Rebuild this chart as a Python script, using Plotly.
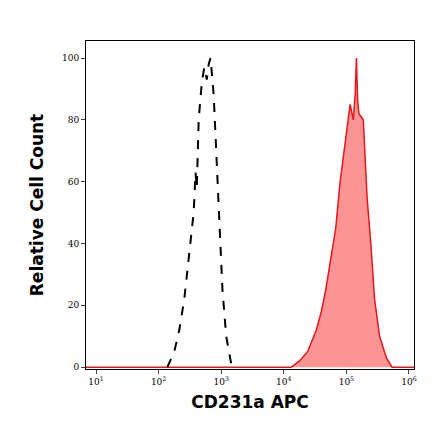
import plotly.graph_objects as go

# Isotype control (dashed), log10 of fluorescence vs count
iso_log = [2.14, 2.25, 2.33, 2.41, 2.48, 2.56, 2.59, 2.61, 2.64, 2.69, 2.73, 2.77, 2.80, 2.83,
           2.88, 2.92, 2.97, 3.02, 3.08, 3.16]
iso_cnt = [0, 5, 12, 22, 35, 50, 63, 58, 80, 92, 97, 93, 98, 100,
           88, 70, 45, 25, 10, 1]

# CD231a APC stained (red filled)
stain_log = [0.8, 4.05, 4.12, 4.25, 4.38, 4.52, 4.60, 4.67, 4.75, 4.83, 4.90, 4.95, 5.00, 5.06, 5.11,
             5.14, 5.16, 5.18, 5.20, 5.27, 5.33, 5.39, 5.45, 5.53, 5.64, 5.73, 6.1]
stain_cnt = [0, 0, 0, 2, 5, 12, 18, 25, 35, 45, 60, 68, 75, 85, 80,
             88, 100, 86, 82, 80, 55, 40, 22, 10, 3, 0, 0]

tick_exp = [1, 2, 3, 4, 5, 6]

fig = go.Figure()
fig.add_trace(go.Scatter(x=[10 ** v for v in stain_log], y=stain_cnt, mode="lines",
                         line=dict(color="#e8161b", width=1.5), fill="tozeroy",
                         fillcolor="rgba(250,130,130,0.85)"))
fig.add_trace(go.Scatter(x=[10 ** v for v in iso_log], y=iso_cnt, mode="lines",
                         line=dict(color="black", width=2, dash="dash")))

fig.update_layout(
    width=440, height=441, showlegend=False,
    plot_bgcolor="white", paper_bgcolor="white",
    margin=dict(l=78, r=34, t=33, b=80),
    font=dict(family="DejaVu Serif", size=9, color="black"),
)
fig.update_xaxes(type="log", range=[0.84, 6.08],
                 tickvals=[10 ** e for e in tick_exp],
                 ticktext=["10<sup>%d</sup>" % e for e in tick_exp],
                 ticks="outside", ticklen=4, showline=True, linecolor="black", mirror=True,
                 showgrid=False, zeroline=False,
                 title=dict(text="<b>CD231a APC</b>", font=dict(family="DejaVu Sans", size=17), standoff=10))
fig.update_yaxes(range=[-0.6, 105.5], tickvals=[0, 20, 40, 60, 80, 100],
                 ticks="outside", ticklen=4, showline=True, linecolor="black", mirror=True,
                 showgrid=False, zeroline=False,
                 title=dict(text="<b>Relative Cell Count</b>", font=dict(family="DejaVu Sans", size=17), standoff=14))

fig.write_html("out.html")
